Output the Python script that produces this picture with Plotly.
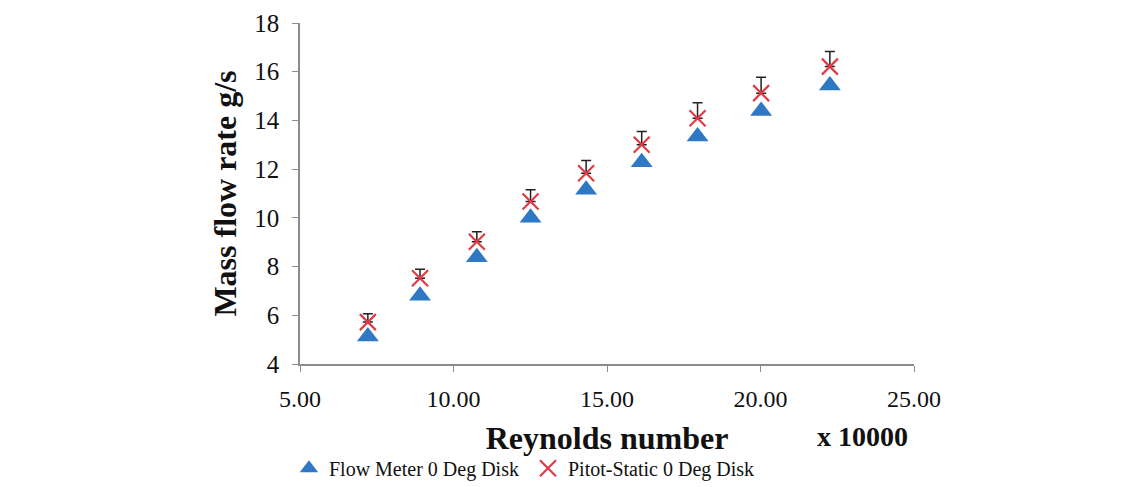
import plotly.graph_objects as go

reynolds = [7.21, 8.91, 10.76, 12.51, 14.32, 16.13, 17.95, 20.02, 22.26]
flow_meter = [5.13, 6.80, 8.38, 10.00, 11.15, 12.28, 13.34, 14.39, 15.43]
pitot_static = [5.72, 7.52, 9.02, 10.67, 11.83, 13.00, 14.09, 15.12, 16.21]
pitot_err = [0.34, 0.37, 0.41, 0.48, 0.52, 0.55, 0.64, 0.65, 0.62]

x_ticks = [5, 10, 15, 20, 25]
y_ticks = [4, 6, 8, 10, 12, 14, 16, 18]

font_family = "Liberation Serif"

fig = go.Figure()
fig.add_trace(go.Scatter(
    x=reynolds, y=flow_meter, mode="markers",
    name="Flow Meter 0 Deg Disk",
    marker=dict(symbol="triangle-up", size=19, color="#2F78C4",
                line=dict(width=0)),
))
fig.add_trace(go.Scatter(
    x=reynolds, y=pitot_static, mode="markers",
    name="Pitot-Static 0 Deg Disk",
    marker=dict(symbol="x-thin-open", size=16, color="#E03A45",
                line=dict(width=2.2, color="#E03A45")),
    error_y=dict(type="data", array=pitot_err, arrayminus=[0]*len(pitot_err),
                 symmetric=False, color="#222222", thickness=1.5, width=5),
))

fig.update_layout(
    width=1134, height=479,
    margin=dict(l=292, r=228, t=15, b=123, autoexpand=False),
    paper_bgcolor="white", plot_bgcolor="white",
    font=dict(family=font_family, size=21, color="#111111"),
    showlegend=True,
    legend=dict(orientation="h", x=-0.018, y=-0.306, xanchor="left", yanchor="middle",
                font=dict(size=20, family=font_family), itemwidth=30,
                entrywidth=194, entrywidthmode="pixels",
                bgcolor="rgba(0,0,0,0)"),
    xaxis=dict(
        range=[5, 25], tickvals=x_ticks, tickformat=".2f",
        showgrid=False, zeroline=False, automargin=False,
        showline=True, linecolor="#8c8c8c", linewidth=1.5,
        ticks="outside", ticklen=6, tickcolor="#8c8c8c",
        tickfont=dict(size=24, family=font_family), ticklabelstandoff=6,
        title=dict(text="<b>Reynolds number</b>", font=dict(size=32, family=font_family), standoff=16),
    ),
    yaxis=dict(
        range=[4, 18], tickvals=y_ticks,
        showgrid=False, zeroline=False, automargin=False,
        showline=True, linecolor="#8c8c8c", linewidth=1.5,
        ticks="outside", ticklen=6, tickcolor="#8c8c8c",
        tickfont=dict(size=25, family=font_family), ticklabelstandoff=8,
        title=dict(text="<b>Mass flow rate g/s</b>", font=dict(size=32, family=font_family), standoff=8),
    ),
)

fig.add_annotation(
    text="<b>x 10000</b>", xref="paper", yref="paper",
    x=562.5 / 614, y=(356 - 428) / 341,
    xanchor="center", yanchor="middle", showarrow=False,
    font=dict(size=28, family=font_family, color="#111111"),
)

fig.write_html("out.html")
